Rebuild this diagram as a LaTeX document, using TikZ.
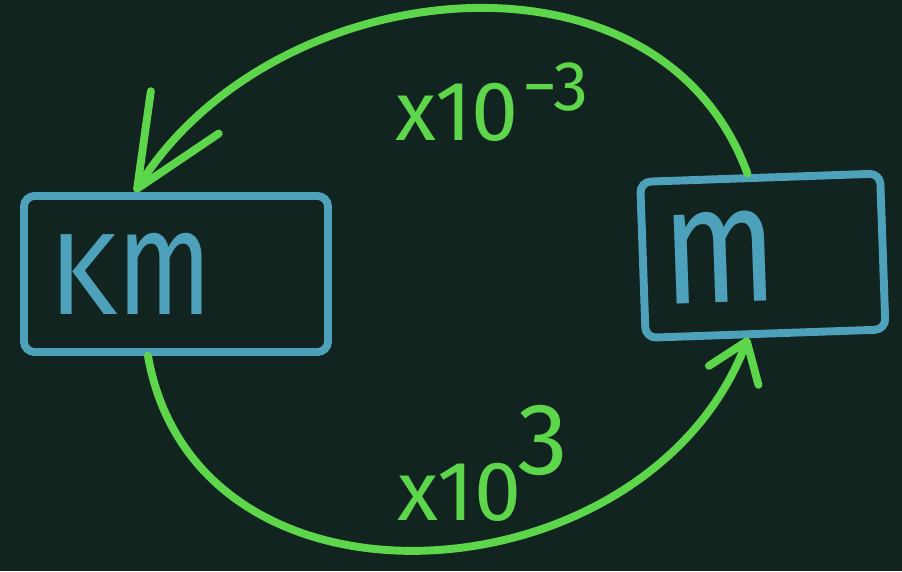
\documentclass[tikz,border=0pt]{standalone}
\usepackage{fontspec}
\setmainfont{Fira Sans}
\usepackage{xcolor}
\usetikzlibrary{arrows.meta, positioning}

\definecolor{board}{HTML}{12241F}
\definecolor{chalkblue}{HTML}{4EA1BB}
\definecolor{chalkgreen}{HTML}{5DD64C}

\tikzset{
    unitbox/.style={draw=chalkblue, line width=4.5pt, rounded corners=6pt, minimum height=3.12cm, align=left, text=chalkblue, font=\fontsize{66}{66}\selectfont},
    convert/.style={draw=chalkgreen, line width=4.5pt, line cap=round, line join=round},
    factor/.style={text=chalkgreen, inner sep=0pt, font=\fontsize{48}{48}\selectfont},
}

\begin{document}
\begin{tikzpicture}
    \fill[board] (0,0) rectangle (18.04,11.42);
    \useasboundingbox (0,0) rectangle (18.04,11.42);
    \node[unitbox, text width=5.08cm, inner xsep=0.5cm] (km) at (3.52,5.94) {K\scalebox{0.95}[1.3]{m}};
    \node[unitbox, text width=4.0cm, inner xsep=0.4cm, rotate=2, right=6.15cm of km, yshift=0.28cm] (m) {\scalebox{1.15}[1.45]{m}};
    \draw[convert, -{Straight Barb[length=1.8cm, width=1.6cm, round]}] ([xshift=-0.25cm]m.north) to[out=110, in=58, looseness=1.08] ([xshift=-0.82cm]km.north);
    \draw[convert, -{Straight Barb[length=0.73cm, width=1.06cm, round]}] ([xshift=-0.56cm]km.south) to[out=280, in=249, looseness=1.2] ([xshift=-0.35cm]m.south);
    \node[factor, anchor=base west] (up) at (7.9,8.62) {x10\kern2pt\raisebox{17pt}{\fontsize{40}{40}\selectfont −3}};
    \node[factor, anchor=base west] (down) at (7.95,1.02) {x10\kern-2pt\raisebox{26pt}{\fontsize{58}{58}\selectfont 3}};
\end{tikzpicture}
\end{document}
